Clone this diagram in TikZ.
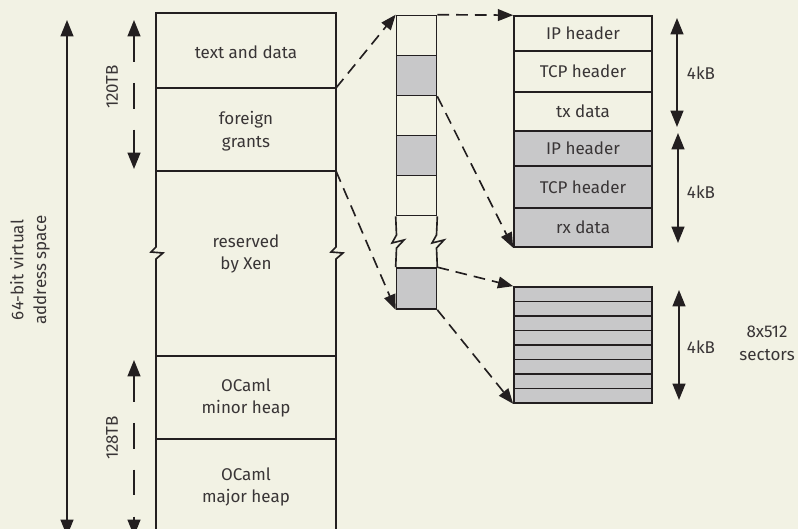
\documentclass[tikz,border=0pt]{standalone}
\usepackage{fontspec}
\setmainfont{Fira Sans}
\usetikzlibrary{arrows.meta}
\definecolor{paper}{HTML}{F2F2E4}
\definecolor{ink}{HTML}{231F20}
\definecolor{shade}{HTML}{C8C8C9}

\begin{document}
\begin{tikzpicture}[x=0.03cm, y=-0.03cm, line width=1.4pt, draw=ink, text=ink!90,
    font=\fontsize{14.5}{19.5}\selectfont,
    tip/.style={-{Triangle[length=13pt, width=10pt]}},
    both/.style={{Triangle[length=14pt, width=11pt]}-{Triangle[length=14pt, width=11pt]}},
    dashy/.style={dash pattern=on 10pt off 6pt},
    sparse/.style={dash pattern=on 22pt off 18pt},
    slot/.style={draw, inner sep=0pt, minimum width=4.14cm, align=center},
    page/.style={draw, inner sep=0pt, minimum width=1.2cm, minimum height=1.2cm},
    sector/.style={draw, fill=shade, inner sep=0pt, minimum width=4.14cm, minimum height=0.435cm}]
    \fill[paper] (0,0) rectangle (798,529);
    \useasboundingbox (0,0) rectangle (798,529);

    % sizes on the left
    \draw[both] (67,20) -- (67,536);
    \node[rotate=90, align=center] (vas) at (30,270) {64-bit virtual\\address space};
    \draw[both, sparse] (134,20) -- (134,169);
    \node[rotate=90] (tb120) at (112,87) {120TB};
    \draw[both, sparse] (134,360) -- (134,536);
    \node[rotate=90] (tb128) at (112,438) {128TB};

    % address space column
    \draw (156,535) -- (156,259) -- (163,253) -- (151,252) -- (156,247) -- (156,13)
          -- (336,13) -- (336,247) -- (331,252) -- (343,253) -- (336,259) -- (336,535);
    \coordinate (tdR) at (336,88);
    \coordinate (fgR) at (336,171);
    \draw (156,88) -- (tdR);
    \draw (156,171) -- (fgR);
    \draw (156,356) -- (336,356);
    \draw (156,439) -- (336,439);
    \node (td) at (246,52) {text and data};
    \node[align=center] (fg) at (246,131) {foreign\\grants};
    \node[align=center] (rx) at (246,254) {reserved\\by Xen};
    \node[align=center] (mn) at (246,398) {OCaml\\minor heap};
    \node[align=center] (mj) at (246,487) {OCaml\\major heap};

    % grant pages
    \node[page] (p1) at (416.5,35.5) {};
    \node[page, fill=shade] (p2) at (416.5,75.5) {};
    \node[page] (p3) at (416.5,115.5) {};
    \node[page, fill=shade] (p4) at (416.5,155.5) {};
    \node[page] (p5) at (416.5,195.5) {};
    \node[page, fill=shade, minimum height=1.23cm] (p7) at (416.5,288.5) {};
    \draw (p5.south west) -- (396.5,235) -- (392,243) -- (404,240) -- (396.5,248) -- (p7.north west);
    \draw (p5.south east) -- (436.5,235) -- (432,243) -- (444,240) -- (436.5,248) -- (p7.north east);

    % network pages
    \node[slot, minimum height=1.05cm] (r1) at (583,33.5) {IP header};
    \node[slot, minimum height=1.23cm] (r2) at (583,71.5) {TCP header};
    \node[slot, minimum height=1.17cm] (r3) at (583,111.5) {tx data};
    \node[slot, fill=shade, minimum height=1.05cm] (r4) at (583,148.5) {IP header};
    \node[slot, fill=shade, minimum height=1.26cm] (r5) at (583,187) {TCP header};
    \node[slot, fill=shade, minimum height=1.17cm] (r6) at (583,227.5) {rx data};
    \draw[both] (677,18) -- (677,127);
    \node (kb1) at (701,73) {4kB};
    \draw[both] (678,133) -- (678,243);
    \node (kb2) at (701,192) {4kB};

    % block sectors
    \foreach \i in {0,...,7}
        \node[sector] (s\i) at (583,294.25+14.5*\i) {};
    \draw[both] (679,290) -- (679,400);
    \node (kb3) at (701,347) {4kB};
    \node[align=center] (sec) at (767,343) {8x512\\sectors};

    % mappings
    \draw[dashy, tip] (tdR) -- (p1.north west);
    \draw[dashy, tip] (fgR) -- (p7.south west);
    \draw[dashy, tip] (p1.north east) -- (r1.north west);
    \draw[dashy, tip] (p2.south east) -- (r6.south west);
    \draw[dashy, tip] (p7.north east) -- (s0.north west);
    \draw[dashy, tip] (p7.south east) -- (s7.south west);
\end{tikzpicture}
\end{document}
